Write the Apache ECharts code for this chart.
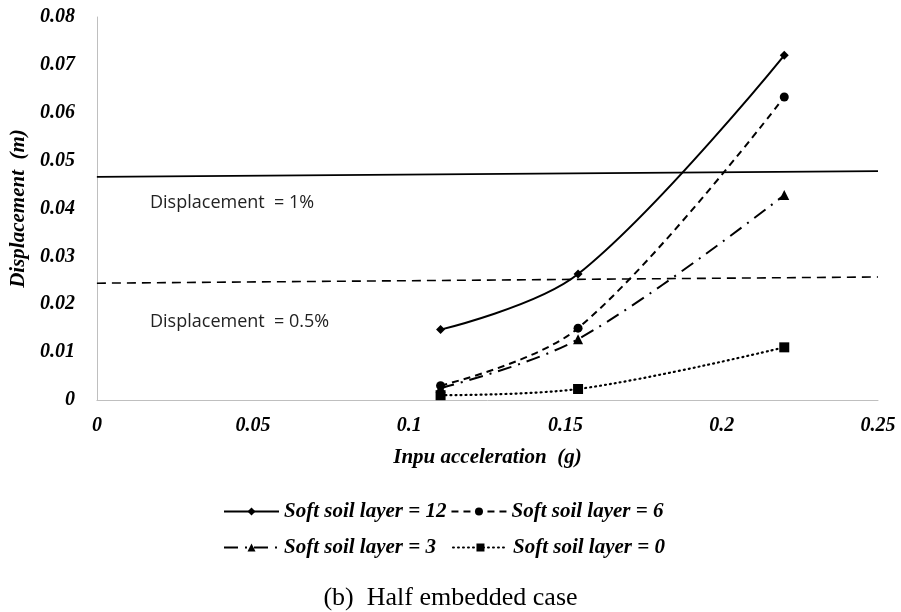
<!DOCTYPE html>
<html>
<head>
<meta charset="utf-8">
<script src="https://cdn.jsdelivr.net/npm/echarts@6/dist/echarts.min.js"></script>
<style>
  html, body { margin: 0; padding: 0; background: #fff; }
  #chart { width: 901px; height: 612px; }
</style>
</head>
<body>
<div id="chart"></div>
<script>
// Input acceleration (g) at which each case was run
const accel = [0.11, 0.154, 0.22];

// Peak displacement (m) for each soft soil layer thickness
const soil12 = [0.0147, 0.0263, 0.072];
const soil6  = [0.003, 0.015, 0.0633];
const soil3  = [0.0025, 0.0127, 0.0428];
const soil0  = [0.001, 0.0023, 0.011];

// Limit lines: displacement = 1% and 0.5%
const limitX = [0, 0.25];
const limit1pct  = [0.0466, 0.0478];
const limit05pct = [0.0244, 0.0257];

const xTicks = [0, 0.05, 0.1, 0.15, 0.2, 0.25];
const yTicks = [0, 0.01, 0.02, 0.03, 0.04, 0.05, 0.06, 0.07, 0.08];

const seriesNames = [
  'Soft soil layer = 12',
  'Soft soil layer = 6',
  'Soft soil layer = 3',
  'Soft soil layer = 0'
];

const pair = (xs, ys) => xs.map((x, i) => [x, ys[i]]);

const serifBI = {
  fontFamily: '"Liberation Serif", "Times New Roman", serif',
  fontWeight: 'bold',
  fontStyle: 'italic',
  color: '#000'
};

const chart = echarts.init(document.getElementById('chart'), null, { renderer: 'canvas' });

const legendCommon = {
  left: 223,
  itemWidth: 55,
  itemHeight: 10,
  padding: 0,
  textStyle: Object.assign({ fontSize: 21, padding: [0, 0, 0, 0] }, serifBI)
};

const option = {
  backgroundColor: '#fff',
  animation: false,
  grid: { left: 95, right: 23, top: 17, bottom: 212, containLabel: false },
  xAxis: {
    type: 'value',
    min: xTicks[0],
    max: xTicks[xTicks.length - 1],
    interval: 0.05,
    name: 'Inpu acceleration  (g)',
    nameLocation: 'middle',
    nameGap: 47,
    nameTextStyle: Object.assign({ fontSize: 21 }, serifBI),
    axisLine: { lineStyle: { color: '#bfbfbf', width: 1 } },
    axisTick: { show: false },
    splitLine: { show: false },
    axisLabel: Object.assign({ fontSize: 20, margin: 16,
      formatter: v => String(+v.toFixed(2)) }, serifBI)
  },
  yAxis: {
    type: 'value',
    min: yTicks[0],
    max: yTicks[yTicks.length - 1],
    interval: 0.01,
    name: 'Displacement  (m)',
    nameLocation: 'middle',
    nameGap: 63,
    nameRotate: 90,
    nameTextStyle: Object.assign({ fontSize: 21 }, serifBI),
    axisLine: { show: true, lineStyle: { color: '#bfbfbf', width: 1 } },
    axisTick: { show: false },
    splitLine: { show: false },
    axisLabel: Object.assign({ fontSize: 20, margin: 22,
      formatter: v => String(+v.toFixed(2)) }, serifBI)
  },
  legend: [
    Object.assign({ data: seriesNames.slice(0, 2), top: 501, itemGap: 4 }, legendCommon),
    Object.assign({ data: seriesNames.slice(2, 4), top: 537, itemGap: 16 }, legendCommon)
  ],
  title: {
    text: '(b)  Half embedded case',
    left: 'center',
    top: 585,
    padding: 0,
    textStyle: {
      fontFamily: '"Liberation Serif", "Times New Roman", serif',
      fontWeight: 'normal',
      fontSize: 26,
      color: '#000'
    }
  },
  series: [
    {
      name: 'limit1',
      type: 'line',
      data: pair(limitX, limit1pct),
      symbol: 'none',
      silent: true,
      lineStyle: { color: '#000', width: 1.6, type: 'solid' }
    },
    {
      name: 'limit05',
      type: 'line',
      data: pair(limitX, limit05pct),
      symbol: 'none',
      silent: true,
      lineStyle: { color: '#000', width: 1.6, type: [9, 6] }
    },
    {
      name: seriesNames[0],
      type: 'line',
      data: pair(accel, soil12),
      smooth: 0.35,
      symbol: 'diamond',
      symbolSize: 9,
      itemStyle: { color: '#000' },
      lineStyle: { color: '#000', width: 2, type: 'solid' }
    },
    {
      name: seriesNames[1],
      type: 'line',
      data: pair(accel, soil6),
      smooth: 0.35,
      symbol: 'circle',
      symbolSize: 9,
      itemStyle: { color: '#000' },
      lineStyle: { color: '#000', width: 2, type: [7, 5] }
    },
    {
      name: seriesNames[2],
      type: 'line',
      data: pair(accel, soil3),
      smooth: 0.35,
      symbol: 'triangle',
      symbolSize: 10,
      itemStyle: { color: '#000' },
      lineStyle: { color: '#000', width: 2, type: [14, 7, 2, 7] }
    },
    {
      name: seriesNames[3],
      type: 'line',
      data: pair(accel, soil0),
      smooth: 0.35,
      symbol: 'rect',
      symbolSize: 10,
      itemStyle: { color: '#000' },
      lineStyle: { color: '#000', width: 2.2, type: [1, 4], cap: 'round' }
    }
  ]
};

chart.setOption(option);

// Annotation text for the two limit lines, anchored in data space
const labelFont = '18px "Open Sans", "Liberation Sans", sans-serif';
const p1 = chart.convertToPixel({ gridIndex: 0 }, [0.017, 0.0411]);
const p2 = chart.convertToPixel({ gridIndex: 0 }, [0.017, 0.0164]);
chart.setOption({
  graphic: [
    { type: 'text', x: p1[0], y: p1[1],
      style: { text: 'Displacement  = 1%', font: labelFont, fill: '#222',
               textVerticalAlign: 'middle' } },
    { type: 'text', x: p2[0], y: p2[1],
      style: { text: 'Displacement  = 0.5%', font: labelFont, fill: '#222',
               textVerticalAlign: 'middle' } }
  ]
});
</script>
</body>
</html>
